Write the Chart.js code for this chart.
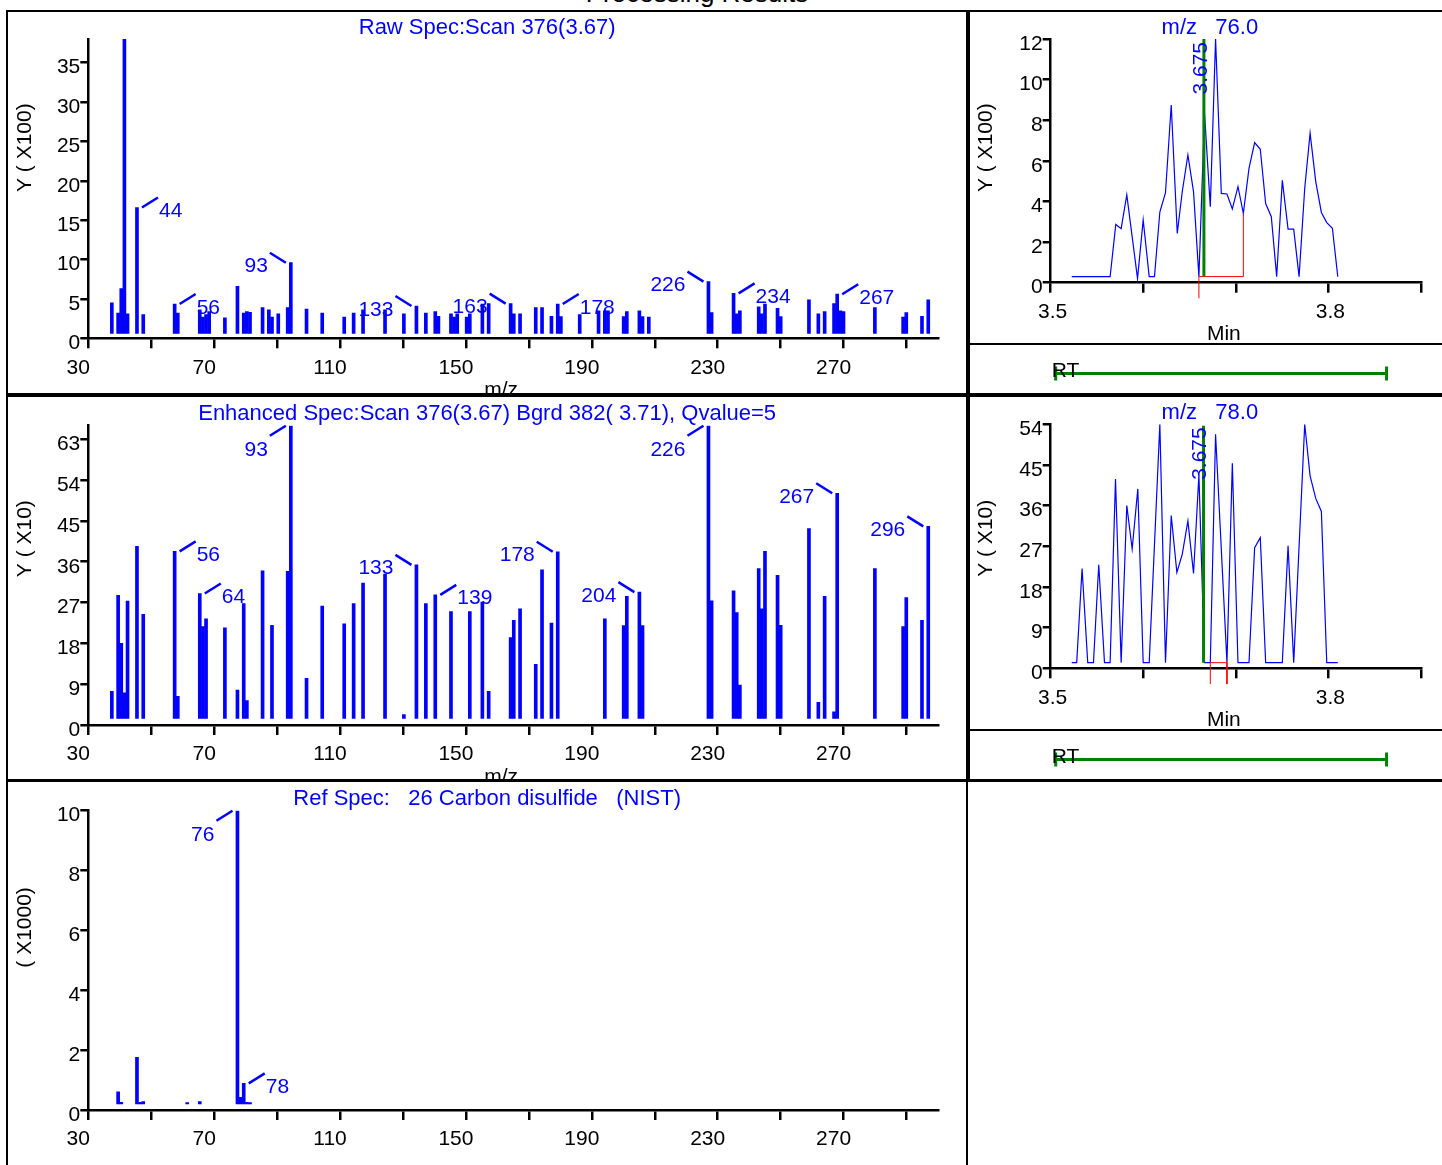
<!DOCTYPE html>
<html>
<head>
<meta charset="utf-8">
<title>Processing Results</title>
<script src="https://cdn.jsdelivr.net/npm/chart.js@4.4.0/dist/chart.umd.min.js"></script>
<style>
  body { margin: 0; background: #fff; width: 1442px; height: 1165px; overflow: hidden; position: relative; font-family: 'Liberation Sans', Arial, sans-serif; }
  canvas { position: absolute; }
  .ln { position: absolute; background: #000; }
  #titre { position: absolute; left: 0; width: 1394px; top: -20.5px; text-align: center; font-size: 26px; line-height: 26px; color: #000; }
</style>
</head>
<body>
<div id="titre">Processing Results</div>

<canvas id="raw" width="966" height="381" style="left:0;top:12px"></canvas>
<canvas id="enh" width="966" height="381" style="left:0;top:398px"></canvas>
<canvas id="ref" width="966" height="383" style="left:0;top:782px"></canvas>
<canvas id="c76" width="472" height="330" style="left:970px;top:12px"></canvas>
<canvas id="rt76" width="472" height="48" style="left:970px;top:345px"></canvas>
<canvas id="c78" width="472" height="331" style="left:970px;top:398px"></canvas>
<canvas id="rt78" width="472" height="48" style="left:970px;top:731px"></canvas>

<!-- cadres -->
<div class="ln" style="left:6px;top:10px;width:1436px;height:2px"></div>
<div class="ln" style="left:6px;top:10px;width:2px;height:1155px"></div>
<div class="ln" style="left:966px;top:10px;width:4px;height:770px"></div>
<div class="ln" style="left:966px;top:780px;width:2px;height:385px"></div>
<div class="ln" style="left:6px;top:393px;width:1436px;height:4px"></div>
<div class="ln" style="left:970px;top:343px;width:472px;height:2px"></div>
<div class="ln" style="left:970px;top:729px;width:472px;height:2px"></div>
<div class="ln" style="left:6px;top:779px;width:1436px;height:3px"></div>

<script>
// --- axes ---
const mzTicks = [30, 50, 70, 90, 110, 130, 150, 170, 190, 210, 230, 250, 270, 290];
const mzLabels = [30, 70, 110, 150, 190, 230, 270];
const minTicks = [3.5, 3.6, 3.7, 3.8, 3.9];
const minLabels = [3.5, 3.8];
const rawYTicks = [0, 5, 10, 15, 20, 25, 30, 35];
const enhYTicks = [0, 9, 18, 27, 36, 45, 54, 63];
const refYTicks = [0, 2, 4, 6, 8, 10];
const c76YTicks = [0, 2, 4, 6, 8, 10, 12];
const c78YTicks = [0, 9, 18, 27, 36, 45, 54];

// --- Raw Spec: Scan 376 (x100) ---
const rawMz = [36, 38, 39, 40, 41, 44, 46, 56, 57, 64, 65, 66, 67, 72, 76, 78, 79, 80, 84, 86, 87, 89, 92, 93, 98,
  103, 110, 113, 116, 123, 129, 133, 136, 139, 140, 144, 145, 146, 149, 150, 154, 156, 163, 164, 166, 171, 173, 176,
  178, 179, 185, 191, 193, 194, 199, 200, 204, 205, 207, 226, 227, 234, 235, 236, 242, 243, 244, 248, 249, 258, 261,
  263, 266, 267, 268, 269, 279, 288, 289, 294, 296];
const rawInt = [4.5, 3.2, 6.3, 38, 3.1, 16.6, 3.0, 4.35, 3.2, 3.6, 2.7, 3.0, 3.4, 2.6, 6.6, 3.2, 3.4, 3.3, 3.9, 3.6, 2.7, 3.1, 3.9, 9.6, 3.7,
  3.2, 2.7, 3.2, 3.6, 3.6, 3.1, 4.1, 3.2, 3.4, 2.8, 3.1, 2.7, 3.1, 2.7, 3.1, 4.35, 4.4, 4.4, 3.1, 3.1, 3.9, 3.9, 2.8,
  4.35, 2.75, 3.0, 3.5, 3.5, 3.5, 2.75, 3.4, 3.5, 2.75, 2.7, 7.2, 3.25, 5.7, 3.1, 3.5, 4.0, 3.1, 4.35, 3.8, 2.75, 4.9, 3.1,
  3.4, 4.4, 5.6, 3.5, 3.4, 3.9, 2.7, 3.25, 2.8, 4.9];
const rawTags = [44, 56, 93, 133, 163, 178, 226, 234, 267];

// --- Enhanced Spec (x10) ---
const enhMz = [36, 38, 39, 40, 41, 44, 46, 56, 57, 64, 65, 66, 72, 76, 78, 79, 84, 87, 92, 93, 98, 103, 110, 113, 116,
  123, 129, 133, 136, 139, 144, 150, 154, 156, 163, 164, 166, 171, 173, 176, 178, 193, 199, 200, 204, 205, 226, 227,
  234, 235, 236, 242, 243, 244, 248, 249, 258, 261, 263, 266, 267, 279, 288, 289, 294, 296];
const enhInt = [7.4, 28.6, 18.0, 7.1, 27.3, 39.4, 24.4, 38.3, 6.3, 29.0, 21.7, 23.4, 21.4, 7.7, 26.8, 5.4, 34.0, 22.0, 33.9, 66, 10.3, 26.2, 22.3, 26.8, 31.3,
  33.3, 2.3, 35.3, 26.8, 28.7, 25.0, 25.0, 27.1, 7.4, 19.3, 23.1, 25.6, 13.4, 34.2, 22.5, 38.2, 23.4, 21.9, 28.4, 29.3, 21.9, 66, 27.4,
  29.6, 24.8, 8.8, 34.5, 25.6, 38.3, 33.0, 22.0, 43.3, 5.0, 28.4, 2.9, 51.1, 34.5, 21.7, 28.1, 23.1, 43.8];
const enhTags = [93, 56, 64, 133, 139, 178, 204, 226, 267, 296];

// --- Ref Spec: Carbon disulfide (x1000) ---
const refMz = [38, 39, 44, 45, 46, 60, 64, 76, 77, 78, 79, 80];
const refInt = [0.61, 0.26, 1.76, 0.26, 0.28, 0.25, 0.28, 10, 0.42, 0.89, 0.26, 0.25];
const refTags = [76, 78];

// --- chromatogramme m/z 76.0 (x100) ---
const c76T = [3.5227, 3.5642, 3.5703, 3.5761, 3.5822, 3.5938, 3.5999, 3.6064, 3.6121, 3.6179, 3.6240, 3.6302, 3.6367,
  3.6421, 3.6482, 3.6543, 3.6601, 3.6662, 3.6724, 3.6781, 3.6843, 3.6904, 3.6962, 3.7023, 3.7081, 3.7142, 3.7203,
  3.7264, 3.7322, 3.7383, 3.7441, 3.7502, 3.7564, 3.7625, 3.7683, 3.7744, 3.7802, 3.7863, 3.7924, 3.7982, 3.8043, 3.8101];
const c76Y = [0.3, 0.3, 2.87, 2.66, 4.32, 0.2, 3.09, 0.3, 0.3, 3.48, 4.43, 8.75, 2.43,
  4.48, 6.29, 4.47, 0.3, 8.3, 3.74, 12.0, 4.4, 4.37, 3.63, 4.73, 3.42, 5.63, 6.9,
  6.57, 3.9, 3.25, 0.3, 5.04, 2.64, 2.64, 0.3, 4.65, 7.36, 4.98, 3.46, 2.96, 2.68, 0.3];
const c76MarkT = 3.6655;
const c76MarkY = [0.3, 12];
const c76IntT = [3.6601, 3.6601, 3.7081, 3.7081];
const c76IntY = [-0.77, 0.3, 0.3, 3.42];

// --- chromatogramme m/z 78.0 (x10) ---
const c78T = [3.5227, 3.5281, 3.5339, 3.5400, 3.5462, 3.5519, 3.5581, 3.5642, 3.5700, 3.5761, 3.5822, 3.5880, 3.5941,
  3.5999, 3.6064, 3.6179, 3.6240, 3.6302, 3.6363, 3.6421, 3.6482, 3.6543, 3.6601, 3.6662, 3.6724, 3.6781, 3.6904,
  3.6962, 3.7023, 3.7142, 3.7203, 3.7264, 3.7322, 3.7502, 3.7564, 3.7625, 3.7744, 3.7802, 3.7863, 3.7924, 3.7982, 3.8101];
const c78Y = [1.25, 1.25, 22.1, 1.25, 1.25, 22.9, 1.25, 1.25, 41.9, 1.25, 36.0, 26.4, 39.7,
  1.25, 1.25, 54, 1.25, 33.8, 21.2, 25.2, 32.6, 21.0, 42.8, 1.25, 1.25, 51.8, 1.25,
  45.4, 1.25, 1.25, 26.7, 28.9, 1.25, 1.25, 27.1, 1.25, 54, 42.6, 37.6, 34.7, 1.25, 1.25];
const c78MarkT = 3.6651;
const c78MarkY = [1.25, 53.7];
const c78IntT = [3.6724, 3.6724, 3.6904, 3.6904];
const c78IntY = [-3.5, 1.25, 1.25, -3.5];

// fenetre RT
const rtWindow = [3.5054, 3.8628];

// ----------------------------------------------------------------
const BLEU = '#0000ff', VERT = '#008000', ROUGE = '#ff0000';
const FAMILLE = "'Liberation Sans', Arial, sans-serif";
const FONT = '21px ' + FAMILLE;
const FONT_TITRE = '22px ' + FAMILLE;
Chart.defaults.font.family = FAMILLE;
Chart.defaults.font.size = 21;
Chart.defaults.color = '#000';

// textes de chaque panneau (titres, etiquettes de pics, marqueur)
const deco = {
  raw: { title: 'Raw Spec:Scan 376(3.67)', yTitle: 'Y ( X100)', yTitleX: 25, yStart: 153, xTitle: 'm/z',
    tags: rawTags, sides: ['ur', 'ur', 'ul', 'ul', 'ul', 'ur', 'ul', 'ur', 'ur'] },
  enh: { title: 'Enhanced Spec:Scan 376(3.67) Bgrd 382( 3.71), Qvalue=5', yTitle: 'Y ( X10)', yTitleX: 25, yStart: 151.5, xTitle: 'm/z',
    tags: enhTags, sides: ['dl', 'ur', 'ur', 'ul', 'ur', 'ul', 'ul', 'dl', 'ul', 'ul'] },
  ref: { title: 'Ref Spec:   26 Carbon disulfide   (NIST)', yTitle: '( X1000)', yTitleX: 25, yStart: 157,
    tags: refTags, sides: ['dl', 'ur'] },
  c76: { title: 'm/z   76.0', yTitle: 'Y ( X100)', yTitleX: 16.7, yStart: 153, xTitle: 'Min', mark: c76MarkT },
  c78: { title: 'm/z   78.0', yTitle: 'Y ( X10)', yTitleX: 16.7, yStart: 152.5, xTitle: 'Min', mark: c78MarkT },
  rt76: { rt: true },
  rt78: { rt: true }
};

const decorPlugin = {
  id: 'decor',
  afterDraw(chart) {
    const d = deco[chart.canvas.id];
    if (!d) return;
    const ctx = chart.ctx, a = chart.chartArea;
    const cx = (a.left + a.right) / 2;
    ctx.save();
    ctx.font = FONT;
    ctx.textBaseline = 'alphabetic';
    if (d.title) {
      ctx.save();
      ctx.font = FONT_TITRE;
      ctx.fillStyle = BLEU;
      ctx.textAlign = 'center';
      ctx.fillText(d.title, cx - 26, a.top - 5.5);
      ctx.restore();
    }
    if (d.xTitle) {
      ctx.fillStyle = '#000';
      ctx.textAlign = 'center';
      ctx.fillText(d.xTitle, cx - 12, a.bottom + 57.5);
    }
    if (d.yTitle) {
      ctx.save();
      ctx.translate(d.yTitleX, a.top + d.yStart);
      ctx.rotate(-Math.PI / 2);
      ctx.fillStyle = '#000';
      ctx.textAlign = 'left';
      ctx.textBaseline = 'middle';
      ctx.fillText(d.yTitle, 0, 0);
      ctx.restore();
    }
    if (d.tags) {
      const xs = chart.scales.xd, ys = chart.scales.y;
      const pts = chart.data.datasets[0].data;
      ctx.strokeStyle = BLEU;
      ctx.fillStyle = BLEU;
      ctx.lineWidth = 2.5;
      d.tags.forEach((m, i) => {
        const p = pts.find(q => q.x === m);
        const bx = xs.getPixelForValue(m), by = ys.getPixelForValue(p.y);
        const sx = d.sides[i] === 'ur' ? 1 : -1;
        const sy = d.sides[i] === 'dl' ? 1 : -1;
        ctx.beginPath();
        ctx.moveTo(bx + 5 * sx, by);
        ctx.lineTo(bx + 21 * sx, by + 10 * sy);
        ctx.stroke();
        ctx.textAlign = sx > 0 ? 'left' : 'right';
        ctx.fillText(String(m), sx > 0 ? bx + 22 : bx - 23, sy > 0 ? by + 30.5 : by + 9.5);
      });
    }
    if (d.mark) {
      ctx.save();
      ctx.translate(chart.scales.x.getPixelForValue(d.mark) - 3, a.top + 3);
      ctx.rotate(-Math.PI / 2);
      ctx.fillStyle = BLEU;
      ctx.textAlign = 'right';
      ctx.textBaseline = 'middle';
      ctx.fillText('3.675', 0, 0);
      ctx.restore();
    }
    if (d.rt) {
      ctx.fillStyle = '#000';
      ctx.textAlign = 'left';
      ctx.fillText('RT', a.left + 1, a.top + 12.7);
    }
    ctx.restore();
  }
};

function axeX(min, max, ticks, labels, labelOffset, fmt) {
  return {
    type: 'linear', min, max, offset: false,
    afterBuildTicks: s => { s.ticks = ticks.map(v => ({ value: v })); },
    afterFit: s => { s.height = 40; },
    border: { display: true, color: '#000', width: 2.5 },
    grid: { drawOnChartArea: false, drawTicks: true, tickLength: 10, color: '#000', lineWidth: 2.5, offset: false },
    ticks: {
      autoSkip: false, maxRotation: 0, minRotation: 0, padding: 7, labelOffset, color: '#000',
      callback: v => labels.includes(v) ? fmt(v) : ''
    }
  };
}

function axeY(max, ticks, width) {
  return {
    type: 'linear', min: 0, max,
    afterBuildTicks: s => { s.ticks = ticks.map(v => ({ value: v })); },
    afterFit: s => { s.width = width; },
    border: { display: true, color: '#000', width: 2.5 },
    grid: { drawOnChartArea: false, drawTicks: true, tickLength: 8, color: '#000', lineWidth: 2.5 },
    ticks: { padding: 0, labelOffset: 5, color: '#000', callback: v => String(v) }
  };
}

const base = {
  responsive: false, animation: false, events: [],
  plugins: { legend: { display: false }, tooltip: { enabled: false } }
};

function spectre(id, mz, inten, yMax, yTicks, barBase, pad) {
  return new Chart(document.getElementById(id), {
    type: 'bar',
    data: {
      datasets: [{
        data: mz.map((m, i) => ({ x: m, y: inten[i] })),
        xAxisID: 'xd', yAxisID: 'y',
        backgroundColor: BLEU, borderWidth: 0, barThickness: 3, base: barBase
      }]
    },
    options: {
      ...base,
      layout: { padding: pad },
      scales: {
        x: axeX(30, 300, mzTicks, mzLabels, -10, v => String(v)),
        // l'appareil trace les barres ~1.5 m/z a droite des graduations
        xd: { type: 'linear', display: false, min: 28.5, max: 299.1, offset: false },
        y: axeY(yMax, yTicks, 60)
      }
    },
    plugins: [decorPlugin]
  });
}

function chromato(id, t, y, yMax, yTicks, markT, markY, intT, intY, pad) {
  return new Chart(document.getElementById(id), {
    type: 'line',
    data: {
      datasets: [
        { data: markY.map(v => ({ x: markT, y: v })), borderColor: VERT, borderWidth: 3, pointRadius: 0 },
        { data: intT.map((v, i) => ({ x: v, y: intY[i] })), borderColor: ROUGE, borderWidth: 1, pointRadius: 0, clip: false },
        { data: t.map((v, i) => ({ x: v, y: y[i] })), borderColor: BLEU, borderWidth: 1.2, pointRadius: 0, tension: 0 }
      ]
    },
    options: {
      ...base,
      layout: { padding: pad },
      scales: {
        x: axeX(3.5, 3.9, minTicks, minLabels, 2, v => v.toFixed(1)),
        y: axeY(yMax, yTicks, 50)
      }
    },
    plugins: [decorPlugin]
  });
}

function fenetreRT(id) {
  return new Chart(document.getElementById(id), {
    type: 'line',
    data: {
      datasets: [{
        data: rtWindow.map(v => ({ x: v, y: 0.5 })),
        borderColor: VERT, borderWidth: 3,
        pointStyle: 'line', pointRotation: 90, pointRadius: 7,
        pointBorderWidth: 3, pointBorderColor: VERT, pointBackgroundColor: VERT, clip: false
      }]
    },
    options: {
      ...base,
      layout: { padding: { left: 80.7, right: 21, top: 19, bottom: 9 } },
      scales: {
        x: { type: 'linear', min: 3.5, max: 3.9, display: false },
        y: { type: 'linear', min: 0, max: 1, display: false }
      }
    },
    plugins: [decorPlugin]
  });
}

spectre('raw', rawMz, rawInt, 38, rawYTicks, 0.63, { left: 28.3, right: 28, top: 27, bottom: 14.7 });
spectre('enh', enhMz, enhInt, 66, enhYTicks, 1.47, { left: 28.3, right: 28, top: 27.7, bottom: 14 });
spectre('ref', refMz, refInt, 10, refYTicks, 0.2, { left: 28.3, right: 28, top: 28.7, bottom: 15 });
chromato('c76', c76T, c76Y, 12, c76YTicks, c76MarkT, c76MarkY, c76IntT, c76IntY, { left: 30.7, right: 21, top: 27, bottom: 19.3 });
chromato('c78', c78T, c78Y, 54, c78YTicks, c78MarkT, c78MarkY, c78IntT, c78IntY, { left: 30.7, right: 21, top: 26.3, bottom: 20.7 });
fenetreRT('rt76');
fenetreRT('rt78');
</script>
</body>
</html>
